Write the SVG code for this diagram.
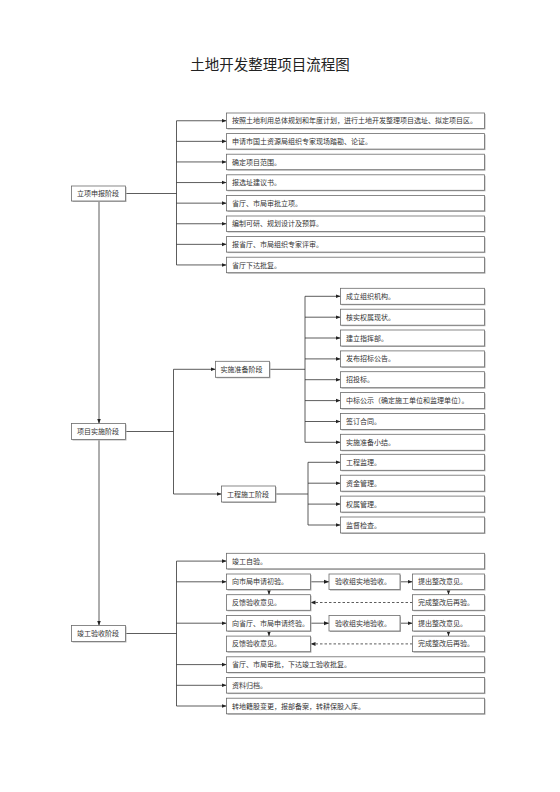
<svg xmlns="http://www.w3.org/2000/svg" width="560" height="792" viewBox="0 0 560 792">
<style>
.bx{fill:#fff;stroke:#6b6b6b;stroke-width:0.8}
.sh{fill:#b5b5b5}
.t{font-family:"Liberation Sans","Noto Sans CJK SC",sans-serif;font-size:7px;fill:#333}
.ttl{font-family:"Liberation Sans","Noto Sans CJK SC",sans-serif;font-size:14.5px;fill:#222}
.ln{stroke:#333;stroke-width:0.8;fill:none}
.ar{stroke:#333;stroke-width:0.8;fill:none;marker-end:url(#ah)}
.da{stroke:#333;stroke-width:0.8;fill:none;stroke-dasharray:2.5,2;marker-end:url(#ah)}
</style>
<defs>
<marker id="ah" viewBox="0 0 6 6" refX="6" refY="3" markerWidth="5" markerHeight="5" orient="auto" markerUnits="userSpaceOnUse"><path d="M0,0.6 L6,3 L0,5.4 Z" fill="#222"/></marker>
</defs>
<rect width="560" height="792" fill="#fff"/>
<text class="ttl" x="270" y="70" text-anchor="middle">土地开发整理项目流程图</text>

<g id="connectors">
<!-- main vertical -->
<path class="ar" d="M99,201 V423.5"/>
<path class="ar" d="M99,439.5 V625.5"/>
<!-- section 1 -->
<path class="ln" d="M125.5,193.5 H176.5 M176.5,120.75 V264.95"/>
<path class="ar" d="M176.5,120.75 H226.5"/>
<path class="ar" d="M176.5,141.35 H226.5"/>
<path class="ar" d="M176.5,161.95 H226.5"/>
<path class="ar" d="M176.5,182.55 H226.5"/>
<path class="ar" d="M176.5,203.15 H226.5"/>
<path class="ar" d="M176.5,223.75 H226.5"/>
<path class="ar" d="M176.5,244.35 H226.5"/>
<path class="ar" d="M176.5,264.95 H226.5"/>
<!-- section 2 -->
<path class="ln" d="M125.5,431.5 H173.5 M173.5,369.3 V494"/>
<path class="ar" d="M173.5,369.3 H215.5"/>
<path class="ar" d="M173.5,494 H221.5"/>
<path class="ln" d="M269.5,369.3 H305 M305,296.3 V442.3"/>
<path class="ar" d="M305,296.3 H340.5"/>
<path class="ar" d="M305,317.2 H340.5"/>
<path class="ar" d="M305,338 H340.5"/>
<path class="ar" d="M305,358.9 H340.5"/>
<path class="ar" d="M305,379.7 H340.5"/>
<path class="ar" d="M305,400.6 H340.5"/>
<path class="ar" d="M305,421.5 H340.5"/>
<path class="ar" d="M305,442.3 H340.5"/>
<path class="ln" d="M275.5,494 H308 M308,462.3 V525"/>
<path class="ar" d="M308,462.3 H340.5"/>
<path class="ar" d="M308,483.2 H340.5"/>
<path class="ar" d="M308,504.1 H340.5"/>
<path class="ar" d="M308,525 H340.5"/>
<!-- section 3 -->
<path class="ln" d="M125.5,633.5 H176.5 M176.5,561.1 V706"/>
<path class="ar" d="M176.5,561.1 H226.5"/>
<path class="ar" d="M176.5,581.8 H226.5"/>
<path class="ar" d="M176.5,623.2 H226.5"/>
<path class="ar" d="M176.5,664.6 H226.5"/>
<path class="ar" d="M176.5,685.3 H226.5"/>
<path class="ar" d="M176.5,706 H226.5"/>
<path class="ar" d="M310.5,581.8 H329"/>
<path class="ar" d="M400,581.8 H412.5"/>
<path class="ar" d="M310.5,623.2 H329"/>
<path class="ar" d="M400,623.2 H412.5"/>
<path class="ar" d="M269,589.6 V594.7"/>
<path class="ar" d="M448.5,589.6 V594.7"/>
<path class="ar" d="M269,631 V636.1"/>
<path class="ar" d="M448.5,631 V636.1"/>
<path class="da" d="M412.5,602.5 H310.5"/>
<path class="da" d="M412.5,643.9 H310.5"/>
</g>

<g id="n-lixiang"><rect class="sh" x="72.5" y="187" width="54" height="15"/><rect class="bx" x="71.5" y="186" width="54" height="15"/><text class="t" x="77" y="196">立项申报阶段</text></g>
<g id="n-shishi"><rect class="sh" x="72.5" y="424.5" width="54" height="16"/><rect class="bx" x="71.5" y="423.5" width="54" height="16"/><text class="t" x="77" y="434">项目实施阶段</text></g>
<g id="n-jungong"><rect class="sh" x="72.5" y="626.5" width="54" height="16"/><rect class="bx" x="71.5" y="625.5" width="54" height="16"/><text class="t" x="77" y="636">竣工验收阶段</text></g>

<g id="n-s1-1"><rect class="sh" x="227.5" y="114" width="258" height="15.5"/><rect class="bx" x="226.5" y="113" width="258" height="15.5"/><text class="t" x="232" y="123.3">按照土地利用总体规划和年度计划，进行土地开发整理项目选址、拟定项目区。</text></g>
<g id="n-s1-2"><rect class="sh" x="227.5" y="134.6" width="258" height="15.5"/><rect class="bx" x="226.5" y="133.6" width="258" height="15.5"/><text class="t" x="232" y="143.9">申请市国土资源局组织专家现场踏勘、论证。</text></g>
<g id="n-s1-3"><rect class="sh" x="227.5" y="155.2" width="258" height="15.5"/><rect class="bx" x="226.5" y="154.2" width="258" height="15.5"/><text class="t" x="232" y="164.5">确定项目范围。</text></g>
<g id="n-s1-4"><rect class="sh" x="227.5" y="175.8" width="258" height="15.5"/><rect class="bx" x="226.5" y="174.8" width="258" height="15.5"/><text class="t" x="232" y="185.1">报选址建议书。</text></g>
<g id="n-s1-5"><rect class="sh" x="227.5" y="196.4" width="258" height="15.5"/><rect class="bx" x="226.5" y="195.4" width="258" height="15.5"/><text class="t" x="232" y="205.7">省厅、市局审批立项。</text></g>
<g id="n-s1-6"><rect class="sh" x="227.5" y="217" width="258" height="15.5"/><rect class="bx" x="226.5" y="216" width="258" height="15.5"/><text class="t" x="232" y="226.3">编制可研、规划设计及预算。</text></g>
<g id="n-s1-7"><rect class="sh" x="227.5" y="237.6" width="258" height="15.5"/><rect class="bx" x="226.5" y="236.6" width="258" height="15.5"/><text class="t" x="232" y="246.9">报省厅、市局组织专家评审。</text></g>
<g id="n-s1-8"><rect class="sh" x="227.5" y="258.2" width="258" height="15.5"/><rect class="bx" x="226.5" y="257.2" width="258" height="15.5"/><text class="t" x="232" y="267.5">省厅下达批复。</text></g>

<g id="n-zhunbei"><rect class="sh" x="216.5" y="362.3" width="54" height="16"/><rect class="bx" x="215.5" y="361.3" width="54" height="16"/><text class="t" x="220.5" y="371.8">实施准备阶段</text></g>
<g id="n-shigong"><rect class="sh" x="222.5" y="487" width="54" height="16"/><rect class="bx" x="221.5" y="486" width="54" height="16"/><text class="t" x="227" y="496.5">工程施工阶段</text></g>

<g id="n-s2-1"><rect class="sh" x="341.5" y="289.3" width="144" height="16"/><rect class="bx" x="340.5" y="288.3" width="144" height="16"/><text class="t" x="346" y="298.8">成立组织机构。</text></g>
<g id="n-s2-2"><rect class="sh" x="341.5" y="310.2" width="144" height="16"/><rect class="bx" x="340.5" y="309.2" width="144" height="16"/><text class="t" x="346" y="319.7">核实权属现状。</text></g>
<g id="n-s2-3"><rect class="sh" x="341.5" y="331" width="144" height="16"/><rect class="bx" x="340.5" y="330" width="144" height="16"/><text class="t" x="346" y="340.5">建立指挥部。</text></g>
<g id="n-s2-4"><rect class="sh" x="341.5" y="351.9" width="144" height="16"/><rect class="bx" x="340.5" y="350.9" width="144" height="16"/><text class="t" x="346" y="361.4">发布招标公告。</text></g>
<g id="n-s2-5"><rect class="sh" x="341.5" y="372.7" width="144" height="16"/><rect class="bx" x="340.5" y="371.7" width="144" height="16"/><text class="t" x="346" y="382.2">招投标。</text></g>
<g id="n-s2-6"><rect class="sh" x="341.5" y="393.6" width="144" height="16"/><rect class="bx" x="340.5" y="392.6" width="144" height="16"/><text class="t" x="346" y="403.1">中标公示（确定施工单位和监理单位）。</text></g>
<g id="n-s2-7"><rect class="sh" x="341.5" y="414.5" width="144" height="16"/><rect class="bx" x="340.5" y="413.5" width="144" height="16"/><text class="t" x="346" y="424">签订合同。</text></g>
<g id="n-s2-8"><rect class="sh" x="341.5" y="435.3" width="144" height="16"/><rect class="bx" x="340.5" y="434.3" width="144" height="16"/><text class="t" x="346" y="444.8">实施准备小结。</text></g>

<g id="n-s3-1"><rect class="sh" x="341.5" y="455.3" width="144" height="16"/><rect class="bx" x="340.5" y="454.3" width="144" height="16"/><text class="t" x="346" y="464.8">工程监理。</text></g>
<g id="n-s3-2"><rect class="sh" x="341.5" y="476.2" width="144" height="16"/><rect class="bx" x="340.5" y="475.2" width="144" height="16"/><text class="t" x="346" y="485.7">资金管理。</text></g>
<g id="n-s3-3"><rect class="sh" x="341.5" y="497.1" width="144" height="16"/><rect class="bx" x="340.5" y="496.1" width="144" height="16"/><text class="t" x="346" y="506.6">权属管理。</text></g>
<g id="n-s3-4"><rect class="sh" x="341.5" y="518" width="144" height="16"/><rect class="bx" x="340.5" y="517" width="144" height="16"/><text class="t" x="346" y="527.5">监督检查。</text></g>

<g id="n-j-1"><rect class="sh" x="227.5" y="554.3" width="258" height="15.6"/><rect class="bx" x="226.5" y="553.3" width="258" height="15.6"/><text class="t" x="232" y="563.6">竣工自验。</text></g>
<g id="n-j-2"><rect class="sh" x="227.5" y="575" width="84" height="15.6"/><rect class="bx" x="226.5" y="574" width="84" height="15.6"/><text class="t" x="232" y="584.3">向市局申请初验。</text></g>
<g id="n-j-2b"><rect class="sh" x="330" y="575" width="71" height="15.6"/><rect class="bx" x="329" y="574" width="71" height="15.6"/><text class="t" x="335" y="584.3">验收组实地验收。</text></g>
<g id="n-j-2c"><rect class="sh" x="413.5" y="575" width="72" height="15.6"/><rect class="bx" x="412.5" y="574" width="72" height="15.6"/><text class="t" x="418" y="584.3">提出整改意见。</text></g>
<g id="n-j-3"><rect class="sh" x="227.5" y="595.7" width="84" height="15.6"/><rect class="bx" x="226.5" y="594.7" width="84" height="15.6"/><text class="t" x="232" y="605">反馈验收意见。</text></g>
<g id="n-j-3c"><rect class="sh" x="413.5" y="595.7" width="72" height="15.6"/><rect class="bx" x="412.5" y="594.7" width="72" height="15.6"/><text class="t" x="418" y="605">完成整改后再验。</text></g>
<g id="n-j-4"><rect class="sh" x="227.5" y="616.4" width="84" height="15.6"/><rect class="bx" x="226.5" y="615.4" width="84" height="15.6"/><text class="t" x="232" y="625.7">向省厅、市局申请终验。</text></g>
<g id="n-j-4b"><rect class="sh" x="330" y="616.4" width="71" height="15.6"/><rect class="bx" x="329" y="615.4" width="71" height="15.6"/><text class="t" x="335" y="625.7">验收组实地验收。</text></g>
<g id="n-j-4c"><rect class="sh" x="413.5" y="616.4" width="72" height="15.6"/><rect class="bx" x="412.5" y="615.4" width="72" height="15.6"/><text class="t" x="418" y="625.7">提出整改意见。</text></g>
<g id="n-j-5"><rect class="sh" x="227.5" y="637.1" width="84" height="15.6"/><rect class="bx" x="226.5" y="636.1" width="84" height="15.6"/><text class="t" x="232" y="646.4">反馈验收意见。</text></g>
<g id="n-j-5c"><rect class="sh" x="413.5" y="637.1" width="72" height="15.6"/><rect class="bx" x="412.5" y="636.1" width="72" height="15.6"/><text class="t" x="418" y="646.4">完成整改后再验。</text></g>
<g id="n-j-6"><rect class="sh" x="227.5" y="657.8" width="258" height="15.6"/><rect class="bx" x="226.5" y="656.8" width="258" height="15.6"/><text class="t" x="232" y="667.1">省厅、市局审批，下达竣工验收批复。</text></g>
<g id="n-j-7"><rect class="sh" x="227.5" y="678.5" width="258" height="15.6"/><rect class="bx" x="226.5" y="677.5" width="258" height="15.6"/><text class="t" x="232" y="687.8">资料归档。</text></g>
<g id="n-j-8"><rect class="sh" x="227.5" y="699.2" width="258" height="15.6"/><rect class="bx" x="226.5" y="698.2" width="258" height="15.6"/><text class="t" x="232" y="708.5">转地籍股变更，报部备案，转耕保股入库。</text></g>
</svg>
